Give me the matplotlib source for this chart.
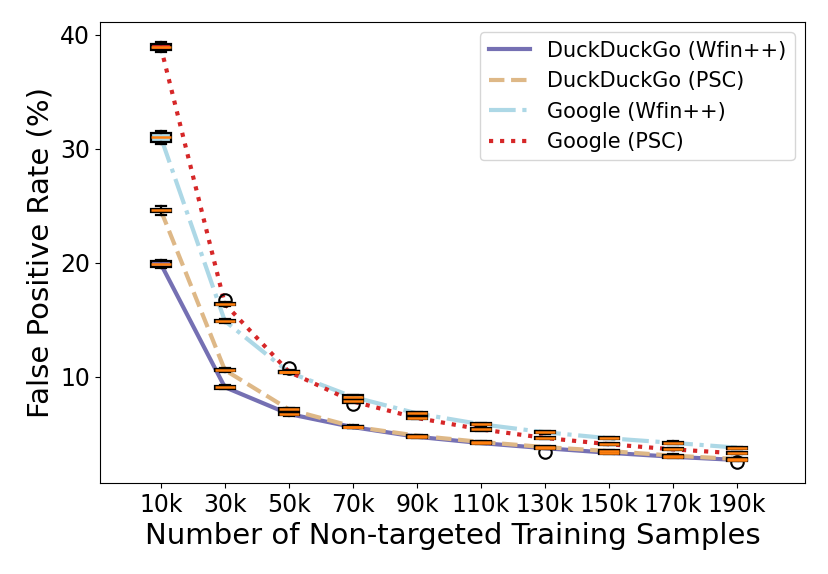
import numpy as np
import matplotlib
matplotlib.use('Agg')
import matplotlib.pyplot as plt

sizes = ['10k', '30k', '50k', '70k', '90k', '110k', '130k', '150k', '170k', '190k']

# medians (%)
ddg_wfin = [19.9, 9.1, 6.75, 5.6, 4.75, 4.2, 3.75, 3.35, 3.0, 2.72]
ddg_psc = [24.6, 10.6, 7.15, 5.65, 4.85, 4.3, 3.85, 3.5, 3.1, 2.8]
goo_wfin = [31.0, 14.9, 10.4, 8.25, 6.8, 5.85, 5.15, 4.62, 4.22, 3.8]
goo_psc = [38.9, 16.4, 10.45, 7.85, 6.4, 5.4, 4.65, 4.1, 3.65, 3.3]

# box half heights and whisker half ranges
ddg_wfin_box = [0.25, 0.12, 0.12, 0.1, 0.08, 0.08, 0.08, 0.08, 0.08, 0.08]
ddg_psc_box = [0.15, 0.1, 0.12, 0.08, 0.08, 0.08, 0.08, 0.08, 0.08, 0.08]
goo_wfin_box = [0.4, 0.1, 0.1, 0.12, 0.1, 0.1, 0.1, 0.08, 0.08, 0.08]
goo_psc_box = [0.25, 0.1, 0.1, 0.12, 0.1, 0.1, 0.1, 0.08, 0.08, 0.08]
ddg_wfin_wh = [0.35, 0.2, 0.15, 0.12, 0.1, 0.1, 0.1, 0.1, 0.1, 0.1]
ddg_psc_wh = [0.4, 0.15, 0.15, 0.1, 0.1, 0.1, 0.1, 0.1, 0.1, 0.1]
goo_wfin_wh = [0.55, 0.15, 0.15, 0.15, 0.12, 0.12, 0.12, 0.1, 0.12, 0.1]
goo_psc_wh = [0.45, 0.15, 0.15, 0.15, 0.12, 0.12, 0.12, 0.1, 0.1, 0.1]

# outliers (position index, value)
ddg_wfin_fl = [(6, 3.4), (9, 2.55)]
ddg_psc_fl = []
goo_wfin_fl = []
goo_psc_fl = [(1, 16.75), (2, 10.8), (3, 7.6)]

series = [
    ('DuckDuckGo (Wfin++)', ddg_wfin, ddg_wfin_box, ddg_wfin_wh, ddg_wfin_fl, '#7570b3', '-'),
    ('DuckDuckGo (PSC)', ddg_psc, ddg_psc_box, ddg_psc_wh, ddg_psc_fl, '#deb887', '--'),
    ('Google (Wfin++)', goo_wfin, goo_wfin_box, goo_wfin_wh, goo_wfin_fl, '#add8e6', '-.'),
    ('Google (PSC)', goo_psc, goo_psc_box, goo_psc_wh, goo_psc_fl, '#d62728', ':'),
]

fig = plt.figure(figsize=(8.29, 5.74), dpi=100)
ax = fig.add_axes([0.1206, 0.1585, 0.8504, 0.8032])
pos = np.arange(1, len(sizes) + 1)

for label, med, box, wh, fl, color, ls in series:
    ax.plot(pos, med, linestyle=ls, color=color, linewidth=3, label=label, zorder=2)
    stats = []
    for i in range(len(sizes)):
        stats.append({
            'med': med[i],
            'q1': med[i] - box[i],
            'q3': med[i] + box[i],
            'whislo': med[i] - wh[i],
            'whishi': med[i] + wh[i],
            'fliers': [v for j, v in fl if j == i],
        })
    ax.bxp(stats, positions=pos, widths=0.32, patch_artist=True,
           boxprops=dict(facecolor=color, edgecolor='black', linewidth=1.6),
           medianprops=dict(color='#ff7f0e', linewidth=1.8),
           whiskerprops=dict(linewidth=1.6), capprops=dict(linewidth=1.6),
           flierprops=dict(marker='o', markersize=9, markerfacecolor='none',
                           markeredgecolor='black', markeredgewidth=1.5),
           manage_ticks=False, zorder=3)

ax.set_xticks(pos)
ax.set_xticklabels(sizes)
ax.set_xlim(0.05, 11.06)
ax.set_ylim(0.7, 41.1)
ax.set_yticks([10, 20, 30, 40])
ax.tick_params(labelsize=17)
ax.set_xlabel('Number of Non-targeted Training Samples', fontsize=21)
ax.set_ylabel('False Positive Rate (%)', fontsize=21)
ax.legend(loc='upper right', fontsize=15)

fig.savefig('out.png', dpi=100)
